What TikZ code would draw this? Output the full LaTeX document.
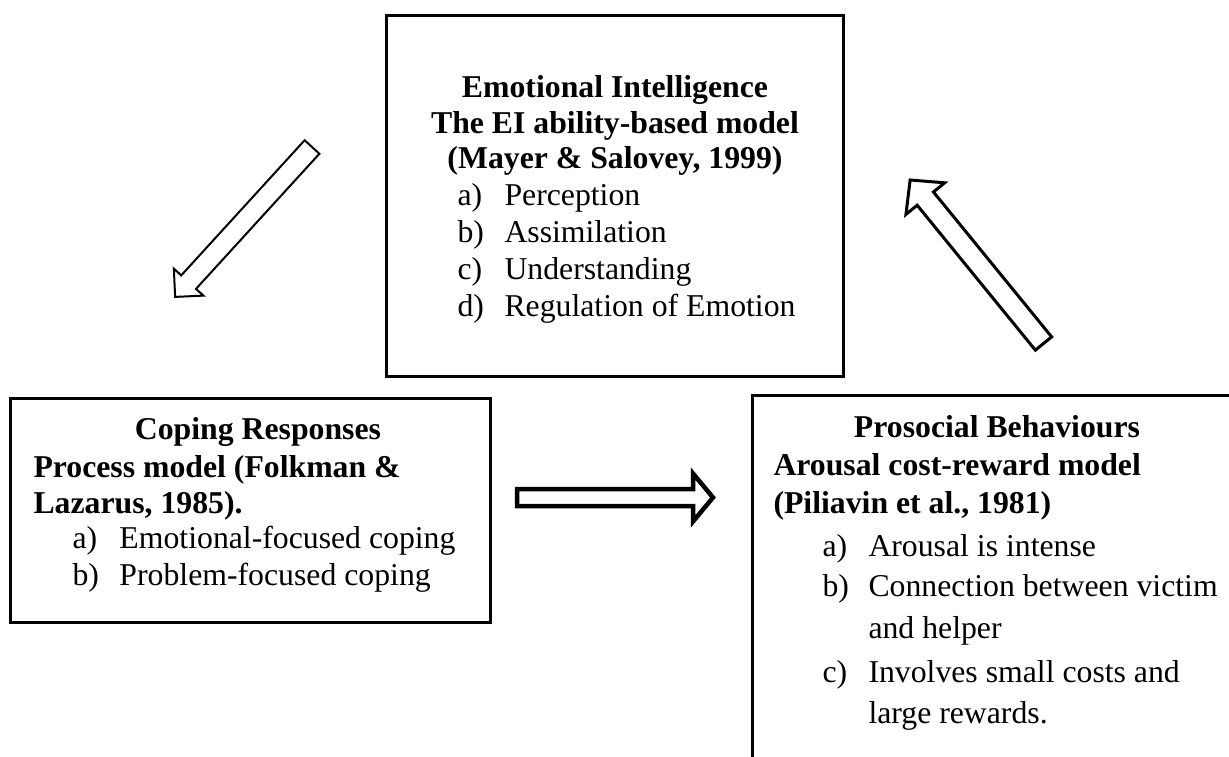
\documentclass[tikz,border=0pt]{standalone}
\usepackage{fontspec}
\setmainfont{Liberation Serif}
\begin{document}
\begin{tikzpicture}[x=0.4pt,y=-0.4pt]

\tikzset{BoxStyle/.style={draw,line width=1.2pt},
  HeadStyle/.style={font=\fontsize{12.7}{15}\selectfont\bfseries,inner sep=0pt,anchor=base},
  LeadStyle/.style={HeadStyle,anchor=base west},
  ItemStyle/.style={font=\fontsize{12.7}{15}\selectfont,inner sep=0pt,anchor=base west},
  ArrowStyle/.style={draw,fill=white,line join=miter}}

  \useasboundingbox (0,0) rectangle (1229,756);
  \clip (0,0) rectangle (1229,756);

  % the three boxes
  \coordinate (emoNW) at (386,15);  \coordinate (emoSE) at (843,376);
  \coordinate (copNW) at (10,398);  \coordinate (copSE) at (490,622);
  \coordinate (proNW) at (752,395); \coordinate (proSE) at (1240,770);
  \draw[BoxStyle] (emoNW) rectangle (emoSE);
  \draw[BoxStyle] (copNW) rectangle (copSE);
  \draw[BoxStyle] (proNW) rectangle (proSE);

  % Emotional Intelligence
  \node[HeadStyle] (emo1) at (615,97)  {Emotional Intelligence};
  \node[HeadStyle] (emo2) at (615,133) {The EI ability-based model};
  \node[HeadStyle] (emo3) at (615,168) {(Mayer \& Salovey, 1999)};
  \node[ItemStyle] (emoa) at (457,205) {a)};
  \node[ItemStyle] (emoA) at (504,205) {Perception};
  \node[ItemStyle] (emob) at (457,242) {b)};
  \node[ItemStyle] (emoB) at (504,242) {Assimilation};
  \node[ItemStyle] (emoc) at (457,279) {c)};
  \node[ItemStyle] (emoC) at (504,279) {Understanding};
  \node[ItemStyle] (emod) at (457,316) {d)};
  \node[ItemStyle] (emoD) at (504,316) {Regulation of Emotion};

  % Coping Responses
  \node[HeadStyle] (cop1) at (258,439) {Coping Responses};
  \node[LeadStyle] (cop2) at (33,477)  {Process model (Folkman \&};
  \node[LeadStyle] (cop3) at (33,513)  {Lazarus, 1985).};
  \node[ItemStyle] (copa) at (72,548)  {a)};
  \node[ItemStyle] (copA) at (119,548) {Emotional-focused coping};
  \node[ItemStyle] (copb) at (72,585)  {b)};
  \node[ItemStyle] (copB) at (119,585) {Problem-focused coping};

  % Prosocial Behaviours
  \node[HeadStyle] (pro1) at (997,437) {Prosocial Behaviours};
  \node[LeadStyle] (pro2) at (773,475) {Arousal cost-reward model};
  \node[LeadStyle] (pro3) at (773,513) {(Piliavin et al., 1981)};
  \node[ItemStyle] (proa) at (822,556) {a)};
  \node[ItemStyle] (proA) at (868,556) {Arousal is intense};
  \node[ItemStyle] (prob) at (822,596) {b)};
  \node[ItemStyle] (proB) at (868,596) {Connection between victim};
  \node[ItemStyle] (proB2) at (868,638) {and helper};
  \node[ItemStyle] (proc) at (822,682) {c)};
  \node[ItemStyle] (proC) at (868,682) {Involves small costs and};
  \node[ItemStyle] (proC2) at (868,723) {large rewards.};

  % block arrows
  \begin{scope}[shift={(312,147)},rotate=227.6]
    \draw[ArrowStyle,line width=0.8pt] (0,-10) -- (183,-10) -- (183,-20) -- (203,0)
      -- (183,20) -- (183,10) -- (0,10) -- cycle;
  \end{scope}
  \begin{scope}[shift={(517,497.5)}]
    \draw[ArrowStyle,line width=1.8pt] (0,-8.5) -- (176,-8.5) -- (176,-24) -- (196,0)
      -- (176,24) -- (176,8.5) -- (0,8.5) -- cycle;
  \end{scope}
  \begin{scope}[shift={(1043.5,343.5)},rotate=129.2]
    \draw[ArrowStyle,line width=1.2pt] (0,-10.5) -- (187,-10.5) -- (187,-25) -- (211,0)
      -- (187,25) -- (187,10.5) -- (0,10.5) -- cycle;
  \end{scope}

\end{tikzpicture}
\end{document}
